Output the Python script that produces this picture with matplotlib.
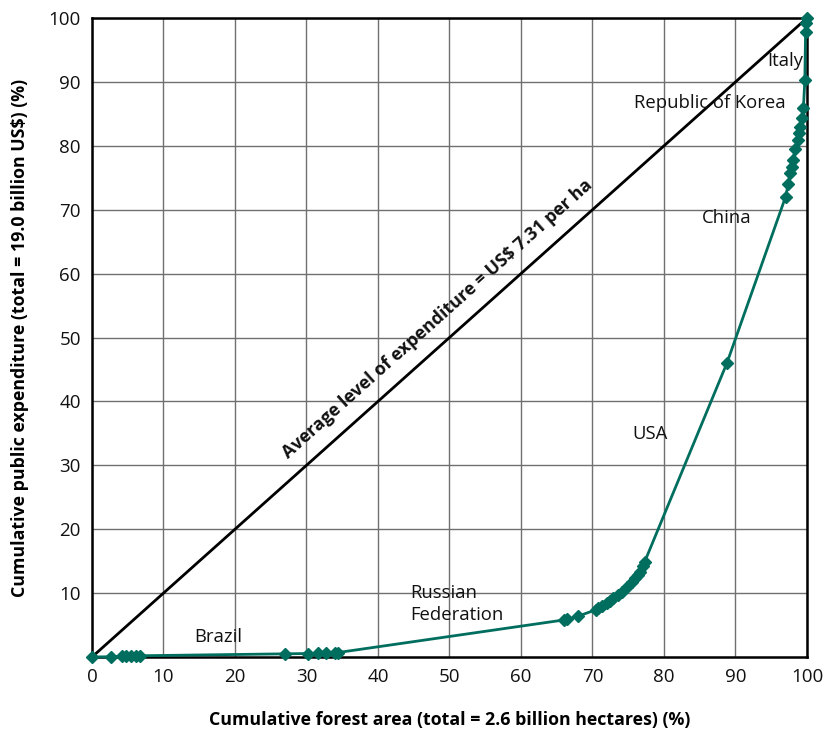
import matplotlib
matplotlib.use("Agg")
import matplotlib.pyplot as plt

plt.rcParams['font.family'] = ['Open Sans', 'DejaVu Sans']

# Cumulative forest area (%) and cumulative public expenditure (%)
cum_area = [0, 2.6, 4.2, 4.8, 5.5, 6.2, 6.7, 27.0, 30.2, 31.6, 32.8, 34.0, 34.4,
            66.0, 66.4, 68.0, 70.5, 70.8, 71.4, 72.0, 72.5, 72.9, 73.5, 74.1, 74.8,
            75.5, 75.9, 76.3, 76.6, 77.1, 77.3,
            88.8, 97.0, 97.4, 97.6, 97.9, 98.1, 98.3, 98.8, 98.9, 99.0, 99.3, 99.5,
            99.7, 99.8, 99.9, 100.0]
cum_exp = [0, 0.05, 0.1, 0.12, 0.15, 0.18, 0.2, 0.5, 0.55, 0.58, 0.6, 0.65, 0.7,
           5.8, 5.9, 6.4, 7.4, 7.6, 8.0, 8.4, 8.8, 9.2, 9.7, 10.2, 11.0,
           11.8, 12.3, 12.8, 13.3, 14.3, 14.9,
           46.0, 72.0, 74.1, 75.7, 76.7, 77.8, 79.5, 80.9, 82.0, 83.0, 84.3, 85.9,
           90.3, 97.8, 99.2, 100.0]

x_ticks = list(range(0, 101, 10))
y_ticks = list(range(10, 101, 10))

labels = ["Italy", "Republic of Korea", "China", "USA", "Russian\nFederation", "Brazil"]
label_x = [97.0, 86.4, 88.8, 78.0, 44.5, 17.6]
label_y = [93.3, 86.7, 68.7, 34.9, 8.3, 3.1]
label_ha = ["center", "center", "center", "center", "left", "center"]

avg_text = "Average level of expenditure = US$ 7.31 per ha"

fig = plt.figure(figsize=(8.27, 7.36), dpi=100)
ax = fig.add_axes([0.1112, 0.1073, 0.8646, 0.8682])

ax.set_xlim(0, 100)
ax.set_ylim(0, 100)
ax.set_xticks(x_ticks)
ax.set_yticks(y_ticks)
ax.grid(True, color='#707070', linewidth=1.0)
ax.set_axisbelow(True)

ax.plot([0, 100], [0, 100], color='black', linewidth=2.0, zorder=3)
ax.plot(cum_area, cum_exp, color='#006e5e', linewidth=2.0, marker='D',
        markersize=6, zorder=4, clip_on=False)

for lab, lx, ly, ha in zip(labels, label_x, label_y, label_ha):
    ax.text(lx, ly, lab, ha=ha, va='center', fontsize=13.3, color='#111111',
            multialignment='left', linespacing=1.25)

ax.text(48.3, 52.9, avg_text, ha='center', va='center', fontsize=12.9,
        fontweight='bold', rotation=45, rotation_mode='anchor',
        transform_rotates_text=True, color='#111111')

for s in ax.spines.values():
    s.set_color('black')
    s.set_linewidth(1.8)

ax.tick_params(axis='both', labelsize=13.5, length=0, pad=8, colors='#111111')
ax.set_xlabel("Cumulative forest area (total = 2.6 billion hectares) (%)",
              fontsize=12.8, fontweight='bold', labelpad=18)
ax.set_ylabel("Cumulative public expenditure (total = 19.0 billion US$) (%)",
              fontsize=12.8, fontweight='bold', labelpad=14)

fig.savefig("out.png", dpi=100)
